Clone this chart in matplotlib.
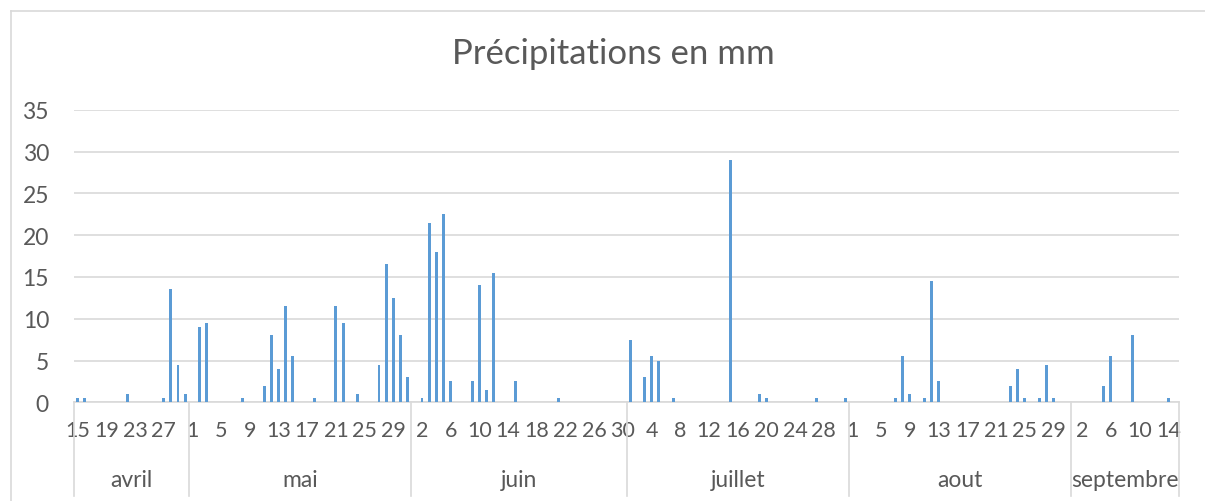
import numpy as np
import matplotlib
matplotlib.use("Agg")
import matplotlib.pyplot as plt
import matplotlib.transforms as mtrans
from matplotlib.lines import Line2D

# data: daily rainfall (mm), 15 april -> 15 september
months = ["avril", "mai", "juin", "juillet", "aout", "septembre"]
first_day = [15, 1, 1, 1, 1, 1]
month_len = [16, 31, 30, 31, 31, 15]

rain_avril = [0.5, 0.5, 0, 0, 0, 0, 0, 1, 0, 0, 0, 0, 0.5, 13.5, 4.5, 1]
rain_mai = [0, 9, 9.5, 0, 0, 0, 0, 0.5, 0, 0, 2, 8, 4, 11.5, 5.5, 0,
            0, 0.5, 0, 0, 11.5, 9.5, 0, 1, 0, 0, 4.5, 16.5, 12.5, 8, 3]
rain_juin = [0, 0.5, 21.5, 18, 22.5, 2.5, 0, 0, 2.5, 14, 1.5, 15.5, 0, 0, 2.5,
             0, 0, 0, 0, 0, 0.5, 0, 0, 0, 0, 0, 0, 0, 0, 0]
rain_juillet = [7.5, 0, 3, 5.5, 5, 0, 0.5, 0, 0, 0, 0, 0, 0, 0, 29, 0,
                0, 0, 1, 0.5, 0, 0, 0, 0, 0, 0, 0.5, 0, 0, 0, 0.5]
rain_aout = [0, 0, 0, 0, 0, 0, 0.5, 5.5, 1, 0, 0.5, 14.5, 2.5, 0, 0, 0,
             0, 0, 0, 0, 0, 0, 2, 4, 0.5, 0, 0.5, 4.5, 0.5, 0, 0]
rain_septembre = [0, 0, 0, 0, 2, 5.5, 0, 0, 8, 0, 0, 0, 0, 0.5, 0]

rain = rain_avril + rain_mai + rain_juin + rain_juillet + rain_aout + rain_septembre
days = []
for start, n in zip(first_day, month_len):
    days += [str(d) for d in range(start, start + n)]

# style
txt = "#595959"
grey = "#D9D9D9"
blue = "#5B9BD5"
fs = 15.5
plt.rcParams["font.family"] = ["Lato", "DejaVu Sans"]

W, H = 1205, 502
fig = plt.figure(figsize=(W / 100, H / 100), dpi=100)
x0, x1, y0, y1 = 74, 1179, 403.3, 110.7
ax = fig.add_axes([x0 / W, 1 - y0 / H, (x1 - x0) / W, (y0 - y1) / H])

x = np.arange(len(rain))
ax.bar(x, rain, width=0.4, color=blue, zorder=3)
ax.set_xlim(-0.5, len(rain) - 0.5)
ax.set_ylim(0, 35)
ax.set_yticks(range(0, 36, 5))
ax.yaxis.grid(True, color=grey, lw=1.2, zorder=0)
for s in ["top", "right", "left"]:
    ax.spines[s].set_visible(False)
ax.spines["bottom"].set_color(grey)
ax.spines["bottom"].set_linewidth(1.2)
ax.tick_params(axis="y", length=0, pad=18, labelsize=16.5, labelcolor=txt)
ax.set_xticks(x[::4])
ax.set_xticklabels(days[::4])
ax.tick_params(axis="x", length=0, pad=13, labelsize=fs, labelcolor=txt)

# month level of the category axis
trans = mtrans.blended_transform_factory(ax.transData, ax.transAxes)
bot = (y0 - 497) / (y0 - y1)
edges = np.concatenate([[0], np.cumsum(month_len)]) - 0.5
for e in edges:
    ax.add_line(Line2D([e, e], [0, bot], transform=trans, color=grey,
                       lw=1.2, clip_on=False))
mid_y = (y0 - 481) / (y0 - y1)
for i, m in enumerate(months):
    ax.text((edges[i] + edges[i + 1]) / 2, mid_y, m, transform=trans,
            ha="center", va="center", fontsize=16.5, color=txt)

fig.text(613 / W, 1 - 54 / H, "Précipitations en mm", ha="center",
         va="center", fontsize=25, color=txt)

# chart frame (only left/top edges are inside the picture)
fig.add_artist(Line2D([11 / W, 11 / W], [-0.1, 1 - 12 / H], color=grey, lw=1.2))
fig.add_artist(Line2D([11 / W, 1.1], [1 - 12 / H, 1 - 12 / H], color=grey, lw=1.2))

fig.savefig("out.png", dpi=100, facecolor="white")
